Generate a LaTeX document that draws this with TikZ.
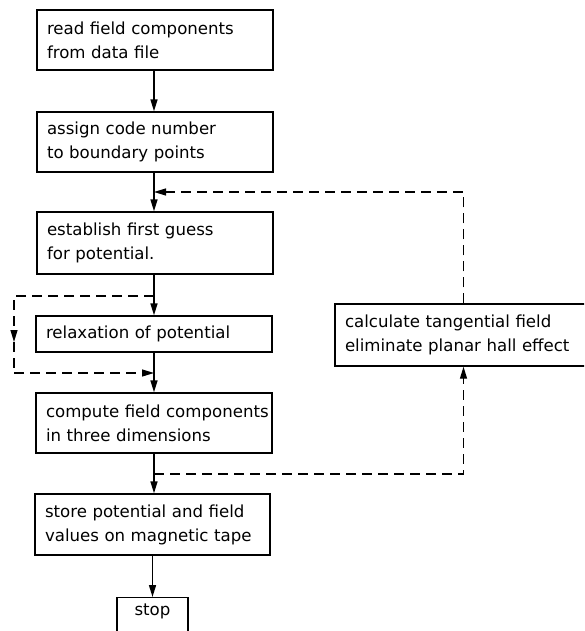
\documentclass[tikz,border=0pt]{standalone}
\usepackage{fontspec}
\setmainfont{DejaVu Sans}[WordSpace=1.7]
\usetikzlibrary{arrows.meta}
\begin{document}
\begin{tikzpicture}[x=1pt,y=-1pt,
  every node/.style={font=\fontsize{16.6}{24}\selectfont},
  stepbox/.style={draw,line width=1.4pt,rectangle,align=left,inner xsep=10pt,
    minimum height=60pt,text width=#1-20pt,minimum width=#1},
  stepbox/.default=236pt,
  flow/.style={line width=1.5pt,-{Triangle[length=12pt,width=7pt]}},
  back/.style={line width=1.2pt,dash pattern=on 10pt off 6pt},
  backtip/.style={back,-{Triangle[length=12pt,width=7pt]}}]
\useasboundingbox (0,0) rectangle (584,631);
\begin{scope}
\clip (0,0) rectangle (584,631);
% main column of steps
\node[stepbox] (read) at (155,40) {\mbox{read field components}\\from data file};
\node[stepbox] (code) at (155,142) {assign code number\\to boundary points};
\node[stepbox,minimum height=62pt] (guess) at (155,243) {establish first guess\\for potential.};
\node[stepbox,minimum height=36pt] (relax) at (154,334) {relaxation of potential};
\node[stepbox] (comp) at (154,423) {\mbox{compute field components}\\in three dimensions};
\node[stepbox=235pt,minimum height=61pt] (store) at (152.5,524.5) {\mbox{store potential and field}\\\mbox{values on magnetic tape}};
\node[draw,line width=1.4pt,anchor=north,minimum width=71pt,inner ysep=6pt,text depth=24pt] (stop) at (152.5,597) {stop};
% side step
\node[stepbox=257pt,minimum height=62pt] (tang) at (463.5,335) {\mbox{calculate tangential field}\\\mbox{eliminate planar hall effect}};

% solid flow
\draw[flow] (read.south -| 154,0) -- (code.north -| 154,0);
\draw[flow] (code.south -| 154,0) -- (guess.north -| 154,0);
\draw[flow] (guess.south -| 154,0) -- (relax.north -| 154,0);
\draw[flow] (relax.south -| 154,0) -- (comp.north -| 154,0);
\draw[flow] (comp.south -| 154,0) -- (store.north -| 154,0);
\draw[flow] (store.south -| 152.5,0) -- (stop.north);

% bypass around the relaxation step
\coordinate (bypassA) at (154,296);
\coordinate (bypassB) at (14,296);
\coordinate (bypassM) at (14,342);
\coordinate (bypassC) at (14,373);
\coordinate (bypassD) at (154,373);
\draw[backtip] (bypassA) -- (bypassB) -- (bypassM);
\draw[back] (bypassM) -- (bypassC);
\draw[backtip] (bypassC) -- (bypassD);

% loop through the tangential field correction
\coordinate (outA) at (154,474);
\coordinate (inA) at (154,192);
\draw[backtip] (outA) -| (tang.south);
\draw[backtip] (tang.north) |- (inA);
\end{scope}
\end{tikzpicture}
\end{document}
